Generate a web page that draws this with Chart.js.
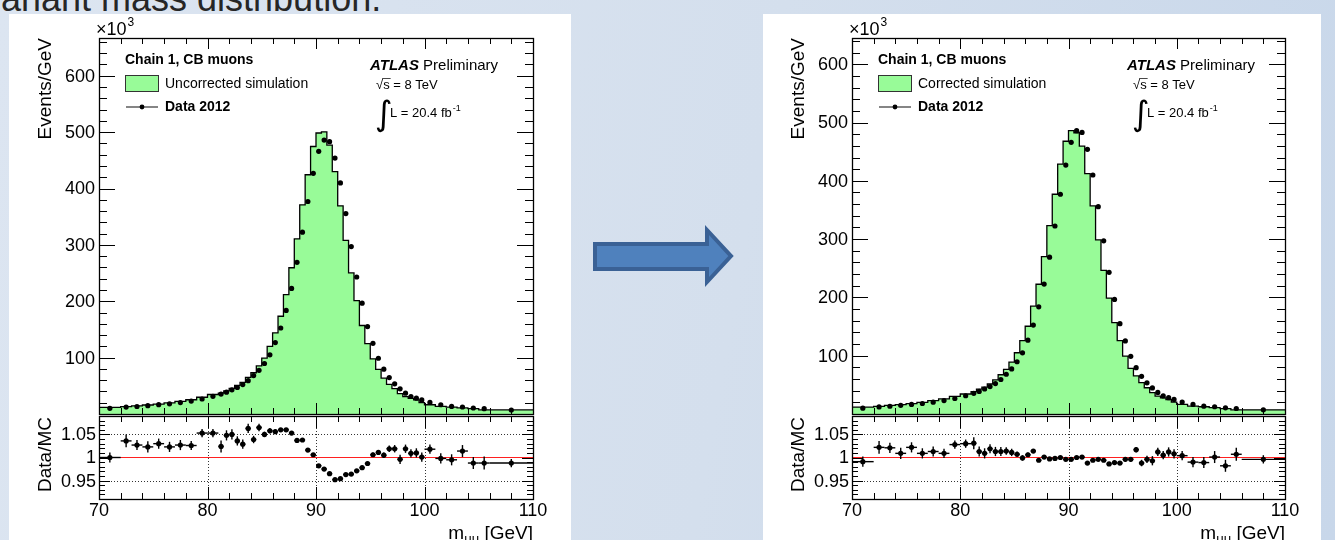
<!DOCTYPE html>
<html>
<head>
<meta charset="utf-8">
<script src="https://cdn.jsdelivr.net/npm/chart.js@4.4.0/dist/chart.umd.min.js"></script>
<style>
  body { margin: 0; }
  #stage {
    position: relative; width: 1335px; height: 540px; overflow: hidden;
    background: linear-gradient(100deg, #dce5f1 0%, #d4dfed 55%, #c8d7ea 100%);
    font-family: "Liberation Sans", Arial, sans-serif;
  }
  .panel { position: absolute; top: 14px; height: 526px; background: #fff; }
  .title { position: absolute; left: -47px; top: -19px; font-size: 36px; line-height: 36px; color: #262626; white-space: nowrap; }
  canvas { position: absolute; }
  svg { position: absolute; left: 0; top: 0; }
</style>
</head>
<body>
<div id="stage">
  <div class="title">Invariant mass distribution.</div>
  <div class="panel" style="left:9px;width:562px"></div>
  <div class="panel" style="left:763px;width:558px"></div>
  <svg width="1335" height="540">
    <polygon points="595,244 707,244 707,230 731,256 707,282 707,269 595,269"
             fill="#4f81bd" stroke="#3a6195" stroke-width="4" stroke-linejoin="miter"/>
  </svg>
</div>
<script>
// --- Données (m_mumu, Events/GeV x10^3) ---
const binEdges = [70, 72, 73, 74, 75, 76, 77, 78, 79, 80, 81,
  81.5, 82, 82.5, 83, 83.5, 84, 84.5, 85, 85.5, 86, 86.5, 87, 87.5, 88, 88.5, 89, 89.5, 90,
  90.5, 91, 91.5, 92, 92.5, 93, 93.5, 94, 94.5, 95, 95.5, 96, 96.5, 97, 97.5, 98, 98.5, 99, 99.5, 100,
  101, 102, 103, 104, 105, 106, 110];
const binCenters = [71, 72.5, 73.5, 74.5, 75.5, 76.5, 77.5, 78.5, 79.5, 80.5,
  81.25, 81.75, 82.25, 82.75, 83.25, 83.75, 84.25, 84.75, 85.25, 85.75,
  86.25, 86.75, 87.25, 87.75, 88.25, 88.75, 89.25, 89.75, 90.25, 90.75,
  91.25, 91.75, 92.25, 92.75, 93.25, 93.75, 94.25, 94.75, 95.25, 95.75,
  96.25, 96.75, 97.25, 97.75, 98.25, 98.75, 99.25, 99.75,
  100.5, 101.5, 102.5, 103.5, 104.5, 105.5, 108];

const data2012 = [10.0, 12.2, 13.3, 14.8, 16.5, 18.0, 20.2, 23.0, 26.6, 31.3,
  35.4, 38.8, 42.9, 47.0, 52.2, 59.2, 68.2, 77.4, 89.6, 105.0,
  126.7, 152.6, 183.8, 222.8, 269.0, 322.5, 377.0, 427.0, 466.0, 486.0,
  483.0, 454.0, 410.0, 355.6, 297.0, 243.0, 196.6, 155.0, 125.4, 98.9,
  79.5, 64.7, 53.5, 44.7, 37.0, 31.0, 28.0, 25.0,
  20.5, 16.4, 13.4, 12.4, 10.6, 9.4, 7.1];

const mcUncorrected = [10.0, 11.8, 12.95, 14.5, 16.0, 17.6, 19.7, 22.4, 25.3, 29.7,
  34.6, 37.0, 40.9, 45.4, 50.7, 56.2, 64.8, 73.2, 85.3, 99.2,
  120.0, 144.0, 173.4, 211.6, 259.4, 310.7, 371.1, 424.4, 474.5, 498.5,
  500.5, 476.9, 429.8, 369.3, 308.1, 250.3, 201.0, 157.0, 124.7, 97.8,
  79.1, 63.5, 52.5, 44.9, 36.3, 30.7, 27.7, 25.0,
  20.1, 16.4, 13.5, 12.2, 10.7, 9.5, 7.2];

const mcCorrected = [10.1, 11.9, 13.0, 14.7, 16.1, 17.8, 19.9, 22.8, 25.9, 30.4,
  34.3, 38.3, 42.5, 46.1, 51.5, 58.4, 67.3, 76.6, 89.0, 105.1,
  125.9, 150.5, 184.9, 222.6, 269.8, 323.1, 377.0, 428.7, 467.9, 486.0,
  482.5, 459.5, 412.5, 357.0, 298.8, 246.5, 198.8, 156.9, 125.9, 99.3,
  78.2, 65.5, 53.7, 45.0, 36.6, 30.8, 27.7, 24.8,
  20.4, 16.6, 13.5, 12.4, 10.8, 9.3, 7.1];

const ratioUncorrected = [1.000, 1.036, 1.027, 1.023, 1.030, 1.023, 1.027, 1.026, 1.053, 1.053,
  1.024, 1.048, 1.050, 1.036, 1.029, 1.063, 1.039, 1.065, 1.050, 1.058,
  1.056, 1.060, 1.060, 1.053, 1.037, 1.038, 1.016, 1.006, 0.982, 0.975,
  0.965, 0.952, 0.954, 0.963, 0.964, 0.971, 0.978, 0.987, 1.006, 1.011,
  1.005, 1.019, 1.019, 0.996, 1.019, 1.009, 1.010, 1.001,
  1.018, 0.998, 0.995, 1.014, 0.988, 0.988, 0.988];

const ratioCorrected = [0.991, 1.022, 1.021, 1.009, 1.022, 1.009, 1.013, 1.009, 1.028, 1.030,
  1.031, 1.013, 1.009, 1.019, 1.013, 1.013, 1.014, 1.011, 1.007, 0.999,
  1.006, 1.014, 0.994, 1.001, 0.997, 0.998, 1.000, 0.996, 0.996, 1.000,
  1.001, 0.988, 0.994, 0.996, 0.994, 0.986, 0.989, 0.988, 0.996, 0.996,
  1.017, 0.988, 0.996, 0.993, 1.012, 1.005, 1.012, 1.008,
  1.004, 0.990, 0.989, 1.001, 0.982, 1.007, 0.996];

const ratioErr = [0.011, 0.014, 0.011, 0.012, 0.011, 0.011, 0.011, 0.010, 0.009, 0.009,
  0.013, 0.011, 0.011, 0.010, 0.010, 0.010, 0.008, 0.008, 0.006, 0.006,
  0.005, 0.004, 0.004, 0.003, 0.003, 0.003, 0.003, 0.003, 0.003, 0.003,
  0.003, 0.003, 0.003, 0.003, 0.003, 0.003, 0.004, 0.004, 0.005, 0.005,
  0.006, 0.007, 0.008, 0.010, 0.009, 0.009, 0.010, 0.010,
  0.010, 0.011, 0.012, 0.013, 0.013, 0.014, 0.009];

// --- Axes ---
const xMajor = [70, 80, 90, 100, 110];
const xTickLabels = ['70', '80', '90', '100', '110'];
const yMainMajor = [100, 200, 300, 400, 500, 600];
const yMainLabels = ['100', '200', '300', '400', '500', '600'];
const yRatioMajor = [0.95, 1, 1.05];
const yRatioLabels = ['0.95', '1', '1.05'];

const GREEN = '#98fb98';
const FONT = '"Liberation Sans", Arial, sans-serif';

const PLOTS = [
  { panelX: 9, panelW: 562, frameL: 99, frameR: 533, mc: mcUncorrected, ratio: ratioUncorrected,
    label: 'Uncorrected simulation', yMax: 667, atlasDx: 271 },
  { panelX: 763, panelW: 558, frameL: 852, frameR: 1285, mc: mcCorrected, ratio: ratioCorrected,
    label: 'Corrected simulation', yMax: 645, atlasDx: 275 }
];

const stage = document.getElementById('stage');

function addCanvas(x, y, w, h) {
  const c = document.createElement('canvas');
  c.width = w; c.height = h;
  c.style.left = x + 'px'; c.style.top = y + 'px';
  c.style.width = w + 'px'; c.style.height = h + 'px';
  stage.appendChild(c);
  return c;
}

function seg(ctx, x1, y1, x2, y2) {
  ctx.beginPath(); ctx.moveTo(x1, y1); ctx.lineTo(x2, y2); ctx.stroke();
}

// ticks ROOT (vers l'intérieur, sur les 4 côtés)
function drawFrame(chart, yTicks, xLen, yLen) {
  const ctx = chart.ctx;
  const { left, right, top, bottom } = chart.chartArea;
  const sx = chart.scales.x, sy = chart.scales.y;
  ctx.save();
  ctx.strokeStyle = '#000';
  ctx.lineWidth = 1;
  for (let v = 72; v < 110; v += 2) {
    const px = Math.round(sx.getPixelForValue(v)) + 0.5;
    const len = v % 10 === 0 ? xLen[0] : xLen[1];
    seg(ctx, px, bottom, px, bottom - len);
    seg(ctx, px, top, px, top + len);
  }
  yTicks.forEach(([v, major]) => {
    const py = Math.round(sy.getPixelForValue(v)) + 0.5;
    const len = major ? yLen[0] : yLen[1];
    seg(ctx, left, py, left + len, py);
    seg(ctx, right, py, right - len, py);
  });
  ctx.lineWidth = 1.3;
  ctx.strokeRect(left + 0.5, top + 0.5, right - left, bottom - top);
  ctx.restore();
}

function histPoints(vals) {
  const pts = vals.map((v, i) => ({ x: binEdges[i], y: v }));
  pts.push({ x: binEdges[binEdges.length - 1], y: vals[vals.length - 1] });
  return pts;
}

function buildPlot(p) {
  const padL = p.frameL - p.panelX;
  const padR = p.panelX + p.panelW - p.frameR;

  // --- Panneau principal ---
  const mainTicks = [];
  for (let v = 0; v <= p.yMax; v += 20) mainTicks.push([v, v % 100 === 0]);

  const mainCanvas = addCanvas(p.panelX, 14, p.panelW, 404);
  new Chart(mainCanvas.getContext('2d'), {
    type: 'line',
    data: {
      datasets: [
        { type: 'scatter', data: binCenters.map((x, i) => ({ x, y: data2012[i] })),
          pointRadius: 2.6, pointBackgroundColor: '#000', pointBorderWidth: 0 },
        { data: histPoints(p.mc), stepped: 'after', fill: 'origin', backgroundColor: GREEN,
          borderColor: '#000', borderWidth: 1.3, pointRadius: 0 }
      ]
    },
    options: {
      responsive: false, animation: false, events: [],
      layout: { padding: { left: padL, right: padR, top: 24, bottom: 4 } },
      plugins: { legend: { display: false }, tooltip: { enabled: false } },
      scales: {
        x: { type: 'linear', min: 70, max: 110, display: false },
        y: { min: 0, max: p.yMax, display: false }
      }
    },
    plugins: [{
      id: 'rootMain',
      afterDraw(chart) {
        drawFrame(chart, mainTicks, [11, 6], [16, 8]);
        const ctx = chart.ctx;
        const { left, top } = chart.chartArea;
        const sy = chart.scales.y;
        ctx.save();
        ctx.fillStyle = '#000';
        ctx.font = '18px ' + FONT;
        ctx.textAlign = 'right'; ctx.textBaseline = 'middle';
        yMainMajor.forEach((v, i) => ctx.fillText(yMainLabels[i], left - 4, sy.getPixelForValue(v) + 1));

        // x10^3
        ctx.textAlign = 'left'; ctx.textBaseline = 'alphabetic';
        ctx.font = '18px ' + FONT;
        ctx.fillText('\u00d710', left - 3, 21);
        const w10 = ctx.measureText('\u00d710').width;
        ctx.font = '12px ' + FONT;
        ctx.fillText('3', left - 3 + w10 + 1, 12);

        // titre axe y
        ctx.save();
        ctx.translate(left - 48, top);
        ctx.rotate(-Math.PI / 2);
        ctx.font = '19px ' + FONT;
        ctx.textAlign = 'right';
        ctx.fillText('Events/GeV', 0, 0);
        ctx.restore();

        // légende
        const lx = left + 26;
        ctx.font = 'bold 14px ' + FONT;
        ctx.fillText('Chain 1, CB muons', lx, 50);
        ctx.fillStyle = GREEN;
        ctx.fillRect(lx, 61, 33, 16);
        ctx.strokeStyle = '#333'; ctx.lineWidth = 1;
        ctx.strokeRect(lx + 0.5, 61.5, 33, 16);
        ctx.fillStyle = '#000';
        ctx.font = '14px ' + FONT;
        ctx.fillText(p.label, lx + 40, 74);
        ctx.lineWidth = 1.2;
        seg(ctx, lx + 1, 93, lx + 33, 93);
        ctx.beginPath(); ctx.arc(lx + 17, 93, 2.4, 0, Math.PI * 2); ctx.fill();
        ctx.font = 'bold 14px ' + FONT;
        ctx.fillText('Data 2012', lx + 40, 97);

        // ATLAS
        const ax = left + p.atlasDx;
        ctx.font = 'italic bold 15px ' + FONT;
        ctx.fillText('ATLAS', ax, 56);
        const wA = ctx.measureText('ATLAS ').width;
        ctx.font = '15px ' + FONT;
        ctx.fillText('Preliminary', ax + wA, 56);

        ctx.font = '13px ' + FONT;
        const sx0 = ax + 6;
        ctx.fillText('\u221a', sx0, 75);
        const wr = ctx.measureText('\u221a').width;
        ctx.fillText('s = 8 TeV', sx0 + wr, 75);
        const ws = ctx.measureText('s').width;
        ctx.lineWidth = 0.9;
        seg(ctx, sx0 + wr - 1, 64.5, sx0 + wr + ws + 1, 64.5);

        ctx.font = '34px "DejaVu Sans", sans-serif';
        ctx.fillText('\u222b', ax + 5, 111);
        ctx.font = '13px ' + FONT;
        ctx.fillText('L = 20.4 fb', ax + 20, 103);
        const wL = ctx.measureText('L = 20.4 fb').width;
        ctx.font = '9px ' + FONT;
        ctx.fillText('-1', ax + 20 + wL + 1, 97);
        ctx.restore();
      }
    }]
  });

  // --- Panneau Data/MC ---
  const ratioTicks = [];
  for (let k = 91; k <= 109; k++) ratioTicks.push([k / 100, k === 95 || k === 100 || k === 105]);

  const ratioCanvas = addCanvas(p.panelX, 410, p.panelW, 130);
  new Chart(ratioCanvas.getContext('2d'), {
    type: 'line',
    data: {
      datasets: [
        { type: 'scatter', data: binCenters.map((x, i) => ({ x, y: p.ratio[i] })),
          pointRadius: 2.6, pointBackgroundColor: '#000', pointBorderWidth: 0 },
        { data: [{ x: 70, y: 1 }, { x: 110, y: 1 }], borderColor: '#ff2020', borderWidth: 1.2, pointRadius: 0 }
      ]
    },
    options: {
      responsive: false, animation: false, events: [],
      layout: { padding: { left: padL, right: padR, top: 6, bottom: 41 } },
      plugins: { legend: { display: false }, tooltip: { enabled: false } },
      scales: {
        x: { type: 'linear', min: 70, max: 110, display: false },
        y: { min: 0.91, max: 1.09, display: false }
      }
    },
    plugins: [{
      id: 'rootRatio',
      beforeDatasetsDraw(chart) {
        const ctx = chart.ctx;
        const { left, right, top, bottom } = chart.chartArea;
        const sx = chart.scales.x, sy = chart.scales.y;
        ctx.save();
        ctx.strokeStyle = '#333'; ctx.lineWidth = 1;
        ctx.setLineDash([1, 2]);
        [80, 90, 100].forEach(v => {
          const px = Math.round(sx.getPixelForValue(v)) + 0.5;
          seg(ctx, px, top, px, bottom);
        });
        [0.95, 1.05].forEach(v => {
          const py = Math.round(sy.getPixelForValue(v)) + 0.5;
          seg(ctx, left, py, right, py);
        });
        ctx.restore();
      },
      afterDatasetsDraw(chart) {
        const ctx = chart.ctx;
        const sx = chart.scales.x, sy = chart.scales.y;
        ctx.save();
        ctx.strokeStyle = '#000'; ctx.lineWidth = 1.4;
        binCenters.forEach((x, i) => {
          const px = sx.getPixelForValue(x);
          const py = sy.getPixelForValue(p.ratio[i]);
          seg(ctx, px, sy.getPixelForValue(p.ratio[i] + ratioErr[i]), px, sy.getPixelForValue(p.ratio[i] - ratioErr[i]));
          seg(ctx, sx.getPixelForValue(binEdges[i]), py, sx.getPixelForValue(binEdges[i + 1]), py);
        });
        ctx.restore();
      },
      afterDraw(chart) {
        drawFrame(chart, ratioTicks, [12, 6], [11, 6]);
        const ctx = chart.ctx;
        const { left, right, top, bottom } = chart.chartArea;
        const sx = chart.scales.x, sy = chart.scales.y;
        ctx.save();
        ctx.fillStyle = '#000';
        ctx.font = '18px ' + FONT;
        ctx.textAlign = 'right'; ctx.textBaseline = 'middle';
        yRatioMajor.forEach((v, i) => ctx.fillText(yRatioLabels[i], left - 3, sy.getPixelForValue(v) + 1));
        ctx.textAlign = 'center'; ctx.textBaseline = 'alphabetic';
        xMajor.forEach((v, i) => ctx.fillText(xTickLabels[i], sx.getPixelForValue(v), bottom + 17));

        // titre x : m_mumu [GeV]
        ctx.textAlign = 'left';
        ctx.font = '19px ' + FONT;
        const wm = ctx.measureText('m').width;
        const wg = ctx.measureText(' [GeV]').width;
        ctx.font = '13px ' + FONT;
        const wmu = ctx.measureText('\u03bc\u03bc').width;
        let tx = right - (wm + wmu + wg);
        const base = bottom + 40;
        ctx.font = '19px ' + FONT;
        ctx.fillText('m', tx, base);
        ctx.font = '13px ' + FONT;
        ctx.fillText('\u03bc\u03bc', tx + wm, base + 4);
        ctx.font = '19px ' + FONT;
        ctx.fillText(' [GeV]', tx + wm + wmu, base);

        // titre y
        ctx.save();
        ctx.translate(left - 48, top + 1);
        ctx.rotate(-Math.PI / 2);
        ctx.font = '19px ' + FONT;
        ctx.textAlign = 'right';
        ctx.fillText('Data/MC', 0, 0);
        ctx.restore();
        ctx.restore();
      }
    }]
  });
}

PLOTS.forEach(buildPlot);
</script>
</body>
</html>
